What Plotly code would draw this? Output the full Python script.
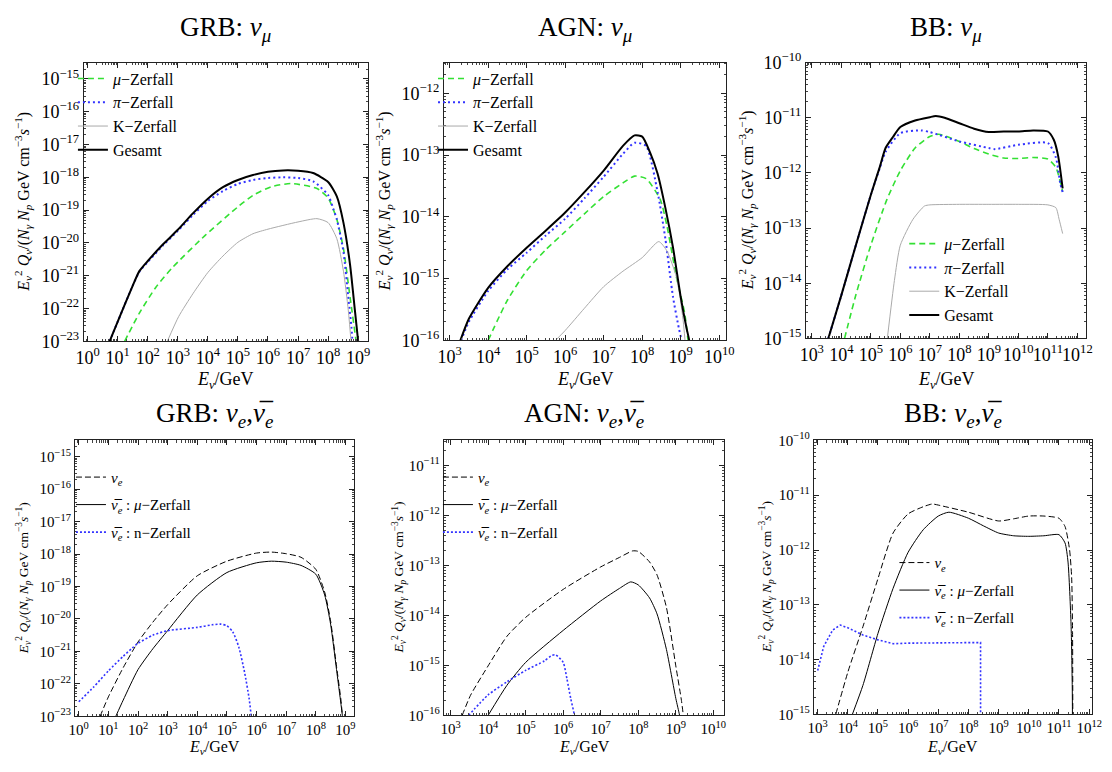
import plotly.graph_objects as go

W, H = 1112, 772
SERIF = "Liberation Serif, Times New Roman, serif"

GREEN = "#33e033"
BLUE = "#3333ff"
GRAY = "#aaaaaa"
BLACK = "#000000"

# ---------------- data: log10(E/GeV) and log10(E^2 Q) ----------------
# GRB nu_mu
grb_mu_E_mu = [1.23, 1.72, 2.27, 2.81, 3.91, 5.0, 5.5, 6.1, 6.76, 7.63, 8.0, 8.29, 8.51, 8.73, 8.93, 8.98]
grb_mu_mu = [-23, -22.14, -21.35, -20.76, -19.77, -18.9, -18.55, -18.29, -18.19, -18.34, -18.63, -19.28, -20.17, -21.65, -23, -23.5]
grb_mu_E_pi = [0.73, 1.0, 1.5, 1.72, 2.0, 2.5, 3.0, 3.5, 4.0, 4.5, 5.0, 5.5, 6.0, 6.5, 7.0, 7.5, 8.0, 8.18, 8.29, 8.51, 8.67, 8.78, 8.83]
grb_mu_pi = [-23, -22.4, -21.3, -20.88, -20.58, -20.08, -19.63, -19.15, -18.72, -18.42, -18.2, -18.08, -18.02, -18.0, -18.02, -18.12, -18.54, -18.98, -19.28, -20.26, -21.65, -22.6, -23.3]
grb_mu_E_K = [2.65, 3.03, 3.5, 4.0, 4.5, 5.0, 5.5, 6.0, 7.0, 7.63, 8.0, 8.29, 8.51, 8.67, 8.79]
grb_mu_K = [-23, -22.24, -21.55, -20.9, -20.4, -19.98, -19.72, -19.58, -19.36, -19.26, -19.38, -19.87, -20.86, -22.04, -23.3]
grb_mu_E_tot = [0.73, 1.0, 1.5, 1.72, 2.0, 2.5, 3.0, 3.5, 4.0, 4.5, 5.0, 5.5, 6.0, 6.5, 7.0, 7.5, 8.0, 8.29, 8.51, 8.73, 8.89, 9.0, 9.05]
grb_mu_tot = [-23, -22.4, -21.3, -20.86, -20.55, -20.05, -19.6, -19.1, -18.65, -18.3, -18.08, -17.93, -17.83, -17.79, -17.8, -17.87, -18.14, -18.58, -19.38, -20.66, -22.04, -23, -23.5]

# AGN nu_mu
agn_mu_E_mu = [4.0, 4.5, 5.0, 5.5, 6.0, 6.5, 7.0, 7.5, 7.8, 8.1, 8.47, 8.64, 8.89, 9.1, 9.19, 9.22]
agn_mu_mu = [-16, -15.35, -14.87, -14.53, -14.24, -13.95, -13.67, -13.45, -13.34, -13.38, -13.72, -14.14, -14.98, -15.55, -16, -16.3]
agn_mu_E_pi = [3.3, 3.5, 4.0, 4.5, 5.0, 5.5, 6.0, 6.5, 7.0, 7.5, 7.8, 8.1, 8.4, 8.6, 8.8, 8.95, 9.02, 9.05]
agn_mu_pi = [-16, -15.7, -15.2, -14.85, -14.58, -14.3, -14.03, -13.7, -13.35, -12.98, -12.8, -12.85, -13.6, -14.35, -15.3, -15.8, -16, -16.3]
agn_mu_E_K = [5.75, 6.0, 6.5, 7.0, 7.5, 8.0, 8.43, 8.64, 8.89, 9.06, 9.15]
agn_mu_K = [-16, -15.84, -15.48, -15.13, -14.88, -14.66, -14.4, -14.55, -14.98, -15.66, -16.3]
agn_mu_E_tot = [3.28, 3.5, 4.0, 4.5, 5.0, 5.5, 6.0, 6.5, 7.0, 7.5, 7.8, 8.0, 8.2, 8.4, 8.6, 8.8, 9.0, 9.15, 9.22, 9.25]
agn_mu_tot = [-16, -15.65, -15.15, -14.8, -14.5, -14.22, -13.93, -13.6, -13.25, -12.85, -12.68, -12.7, -12.95, -13.3, -13.85, -14.5, -15.3, -15.8, -16, -16.3]

# BB nu_mu
bb_mu_E_mu = [4.11, 4.5, 5.0, 5.54, 6.0, 6.5, 7.0, 7.3, 8.0, 8.5, 9.0, 9.5, 10.0, 10.5, 11.0, 11.27, 11.5]
bb_mu_mu = [-15, -14.2, -13.31, -12.49, -11.96, -11.55, -11.34, -11.3, -11.43, -11.56, -11.66, -11.73, -11.74, -11.72, -11.75, -11.9, -12.34]
bb_mu_E_pi = [3.56, 4.0, 4.5, 5.0, 5.3, 5.5, 6.0, 6.7, 7.0, 8.0, 9.0, 9.2, 10.0, 11.0, 11.27, 11.42, 11.5]
bb_mu_pi = [-15, -14.22, -13.3, -12.4, -11.92, -11.62, -11.28, -11.23, -11.26, -11.43, -11.55, -11.57, -11.49, -11.46, -11.72, -12.19, -12.35]
bb_mu_E_K = [5.56, 5.8, 6.0, 6.43, 6.82, 7.0, 8.0, 9.0, 10.0, 11.0, 11.27, 11.38, 11.5]
bb_mu_K = [-15, -13.95, -13.31, -12.84, -12.6, -12.58, -12.57, -12.57, -12.57, -12.58, -12.63, -12.84, -13.1]
bb_mu_E_tot = [3.56, 4.0, 4.5, 5.0, 5.3, 5.5, 5.75, 6.0, 6.5, 7.0, 7.2, 7.5, 8.0, 8.5, 9.0, 9.5, 10.0, 10.5, 11.0, 11.2, 11.35, 11.5]
bb_mu_tot = [-15, -14.22, -13.3, -12.4, -11.9, -11.55, -11.35, -11.17, -11.05, -10.99, -10.97, -11.0, -11.1, -11.2, -11.26, -11.25, -11.25, -11.23, -11.25, -11.4, -11.7, -12.28]

# GRB nu_e
grb_e_E_nue = [0.72, 1.0, 1.5, 2.0, 2.5, 3.0, 4.0, 5.0, 6.0, 6.5, 7.0, 7.5, 8.0, 8.3, 8.5, 8.7, 8.85, 8.9, 8.95]
grb_e_nue = [-23, -22.4, -21.5, -20.71, -20.1, -19.56, -18.67, -18.22, -17.97, -17.94, -17.99, -18.1, -18.47, -19.17, -20.06, -21.46, -22.5, -23, -23.5]
grb_e_E_mu = [1.25, 1.5, 2.0, 2.5, 3.0, 4.0, 5.0, 6.0, 6.5, 7.0, 7.5, 8.0, 8.3, 8.5, 8.7, 8.9, 8.95]
grb_e_mu = [-23, -22.5, -21.56, -20.92, -20.36, -19.26, -18.57, -18.27, -18.22, -18.25, -18.35, -18.62, -19.26, -20.16, -21.56, -23, -23.5]
grb_e_E_n = [0.0, 0.5, 1.0, 1.5, 1.8, 2.0, 2.5, 3.0, 4.0, 4.5, 4.8, 5.0, 5.2, 5.4, 5.6, 5.75, 5.82, 5.85]
grb_e_n = [-22.55, -22.1, -21.6, -21.15, -20.9, -20.75, -20.5, -20.36, -20.26, -20.18, -20.16, -20.21, -20.4, -20.86, -21.66, -22.45, -23, -23.5]

# AGN nu_e
agn_e_E_nue = [3.31, 3.53, 4.0, 4.5, 5.0, 6.0, 7.0, 7.5, 7.85, 8.0, 8.3, 8.5, 8.75, 9.0, 9.15, 9.2, 9.25]
agn_e_nue = [-16, -15.6, -15.01, -14.42, -14.04, -13.48, -13.03, -12.84, -12.71, -12.72, -12.93, -13.19, -13.84, -15.01, -15.7, -16, -16.4]
agn_e_E_mu = [4.0, 4.5, 5.0, 6.0, 7.0, 7.5, 7.8, 8.0, 8.3, 8.5, 8.75, 9.0, 9.1, 9.15]
agn_e_mu = [-16, -15.4, -14.94, -14.3, -13.71, -13.46, -13.33, -13.39, -13.65, -13.97, -14.68, -15.66, -16, -16.3]
agn_e_E_n = [3.48, 4.0, 4.5, 5.0, 5.5, 5.7, 5.8, 6.0, 6.1, 6.2, 6.3, 6.35]
agn_e_n = [-16, -15.59, -15.33, -15.1, -14.91, -14.8, -14.79, -14.94, -15.27, -15.66, -16, -16.3]

# BB nu_e
bb_e_E_nue = [3.6, 4.0, 4.5, 5.0, 5.5, 6.0, 6.5, 6.8, 7.0, 8.0, 9.0, 9.5, 10.0, 10.5, 11.0, 11.2, 11.35, 11.42, 11.45, 11.46]
bb_e_nue = [-15, -14.23, -13.4, -12.52, -11.69, -11.34, -11.21, -11.16, -11.18, -11.31, -11.47, -11.43, -11.38, -11.38, -11.42, -11.57, -11.99, -12.5, -13.5, -15.5]
bb_e_E_mu = [4.15, 4.5, 5.0, 5.5, 6.0, 6.5, 7.0, 7.35, 8.0, 8.5, 9.0, 9.5, 10.0, 10.5, 11.0, 11.2, 11.3, 11.4, 11.44, 11.45]
bb_e_mu = [-15, -14.47, -13.52, -12.7, -12.04, -11.63, -11.38, -11.31, -11.42, -11.56, -11.69, -11.74, -11.75, -11.74, -11.72, -11.87, -12.22, -13.35, -14.5, -15.5]
bb_e_E_n = [3.0, 3.2, 3.5, 3.75, 4.0, 4.5, 5.0, 5.5, 6.0, 7.0, 8.0, 8.4, 8.401]
bb_e_n = [-14.2, -13.76, -13.46, -13.37, -13.42, -13.55, -13.64, -13.71, -13.7, -13.69, -13.69, -13.69, -15.5]

# ---------------- layout helpers ----------------
frames = [
    (77, 366, 52, 339),
    (443, 730, 52, 338),
    (811, 1096, 52, 336),
    (68, 352, 441, 725),
    (443, 728, 441, 724),
    (819, 1102, 441, 723),
]
xranges = [(-0.13, 9.33), (2.85, 10.18), (2.8, 12.3), (-0.13, 9.3), (2.82, 10.29), (2.87, 12.1)]
yranges = [(-23, -14.5), (-16, -11.5), (-15, -10), (-23, -14.5), (-16, -10.5), (-15, -10)]
xtick_exps = [range(0, 10), range(3, 11), range(3, 13), range(0, 10), range(3, 11), range(3, 13)]
ytick_exps = [range(-23, -14), range(-16, -11), range(-15, -9), range(-23, -14), range(-16, -10), range(-15, -9)]
titles = [
    "GRB: <i>ν</i><sub><i>μ</i></sub>",
    "AGN: <i>ν</i><sub><i>μ</i></sub>",
    "BB: <i>ν</i><sub><i>μ</i></sub>",
    "GRB: <i>ν</i><sub><i>e</i></sub>,<i>ν̅</i><sub><i>e</i></sub>",
    "AGN: <i>ν</i><sub><i>e</i></sub>,<i>ν̅</i><sub><i>e</i></sub>",
    "BB: <i>ν</i><sub><i>e</i></sub>,<i>ν̅</i><sub><i>e</i></sub>",
]
ylabel = ("<i>E</i><sub><i>ν</i></sub><sup>2</sup> <i>Q</i><sub><i>ν</i></sub>/(<i>N</i><sub><i>γ</i></sub> "
          "<i>N</i><sub><i>p</i></sub> GeV cm<sup>−3</sup><i>s</i><sup>−1</sup>)")
xlabel = "<i>E</i><sub><i>ν</i></sub>/GeV"


def px_x(p):
    return p / W


def px_y(p):
    return 1 - p / H


def sup(k):
    s = str(k).replace("-", "−")
    return f"10<sup>{s}</sup>"


fig = go.Figure()

panels = [
    [
        (grb_mu_E_mu, grb_mu_mu, "<i>μ</i>−Zerfall", GREEN, 1.6, "6px,4px"),
        (grb_mu_E_pi, grb_mu_pi, "<i>π</i>−Zerfall", BLUE, 2.0, "2px,3px"),
        (grb_mu_E_K, grb_mu_K, "K−Zerfall", GRAY, 1.0, "solid"),
        (grb_mu_E_tot, grb_mu_tot, "Gesamt", BLACK, 2.0, "solid"),
    ],
    [
        (agn_mu_E_mu, agn_mu_mu, "<i>μ</i>−Zerfall", GREEN, 1.6, "6px,4px"),
        (agn_mu_E_pi, agn_mu_pi, "<i>π</i>−Zerfall", BLUE, 2.0, "2px,3px"),
        (agn_mu_E_K, agn_mu_K, "K−Zerfall", GRAY, 1.0, "solid"),
        (agn_mu_E_tot, agn_mu_tot, "Gesamt", BLACK, 2.0, "solid"),
    ],
    [
        (bb_mu_E_mu, bb_mu_mu, "<i>μ</i>−Zerfall", GREEN, 1.6, "6px,4px"),
        (bb_mu_E_pi, bb_mu_pi, "<i>π</i>−Zerfall", BLUE, 2.0, "2px,3px"),
        (bb_mu_E_K, bb_mu_K, "K−Zerfall", GRAY, 1.0, "solid"),
        (bb_mu_E_tot, bb_mu_tot, "Gesamt", BLACK, 2.0, "solid"),
    ],
    [
        (grb_e_E_nue, grb_e_nue, "<i>ν</i><sub><i>e</i></sub>", BLACK, 1.0, "6px,3px"),
        (grb_e_E_mu, grb_e_mu, "<i>ν̅</i><sub><i>e</i></sub> : <i>μ</i>−Zerfall", BLACK, 1.0, "solid"),
        (grb_e_E_n, grb_e_n, "<i>ν̅</i><sub><i>e</i></sub> : n−Zerfall", BLUE, 1.6, "2px,2px"),
    ],
    [
        (agn_e_E_nue, agn_e_nue, "<i>ν</i><sub><i>e</i></sub>", BLACK, 1.0, "6px,3px"),
        (agn_e_E_mu, agn_e_mu, "<i>ν̅</i><sub><i>e</i></sub> : <i>μ</i>−Zerfall", BLACK, 1.0, "solid"),
        (agn_e_E_n, agn_e_n, "<i>ν̅</i><sub><i>e</i></sub> : n−Zerfall", BLUE, 1.6, "2px,2px"),
    ],
    [
        (bb_e_E_nue, bb_e_nue, "<i>ν</i><sub><i>e</i></sub>", BLACK, 1.0, "6px,3px"),
        (bb_e_E_mu, bb_e_mu, "<i>ν̅</i><sub><i>e</i></sub> : <i>μ</i>−Zerfall", BLACK, 1.0, "solid"),
        (bb_e_E_n, bb_e_n, "<i>ν̅</i><sub><i>e</i></sub> : n−Zerfall", BLUE, 1.6, "2px,2px"),
    ],
]

# legend placement (pixels: left, top), font size, gap between items
legend_pos = [(66, 51, 16, 0), (432, 51, 16, 0), (911, 221, 16, 0),
              (64, 462, 15, 5), (437, 462, 15, 5), (901, 550, 15, 5)]

annotations = []
layout = dict(
    width=W, height=H, margin=dict(l=0, r=0, t=0, b=0),
    paper_bgcolor="white", plot_bgcolor="white",
    font=dict(family=SERIF, color="black", size=15),
    showlegend=True,
)

for i, (fr, traces) in enumerate(zip(frames, panels)):
    n = i + 1
    xa = "x" if n == 1 else f"x{n}"
    ya = "y" if n == 1 else f"y{n}"
    lg = "legend" if n == 1 else f"legend{n}"
    for j, (ex, ey, name, col, w, dash) in enumerate(traces):
        vertical_drop = (n == 6 and j == 2)
        fig.add_trace(go.Scatter(
            x=[10 ** v for v in ex], y=[10 ** v for v in ey],
            mode="lines", name=name,
            line=dict(color=col, width=w, dash=dash,
                      shape="linear" if vertical_drop else "spline",
                      smoothing=0.6),
            xaxis=xa, yaxis=ya, legend=lg, legendgroup=f"p{n}g{j}",
            hoverinfo="skip",
        ))
    l, r, t, b = fr
    top_row = i < 3
    tick_size = 18 if top_row else 15
    xmaj = list(xtick_exps[i])
    ymaj = list(ytick_exps[i])
    xminor = [m * 10 ** k for k in range(xmaj[0] - 1, xmaj[-1] + 1) for m in range(2, 10)]
    yminor = [m * 10 ** k for k in range(ymaj[0] - 1, ymaj[-1] + 1) for m in range(2, 10)]
    common = dict(type="log", showgrid=False, zeroline=False, showline=True,
                  linecolor="#222", linewidth=1, mirror="allticks",
                  ticks="inside", ticklen=5, tickwidth=0.8, tickcolor="#222",
                  tickangle=0,
                  tickfont=dict(family=SERIF, size=tick_size, color="black"))
    layout["xaxis" if n == 1 else f"xaxis{n}"] = dict(
        common, domain=[px_x(l), px_x(r)], anchor=ya, range=list(xranges[i]),
        tickvals=[10 ** k for k in xmaj], ticktext=[sup(k) for k in xmaj],
        minor=dict(ticks="inside", ticklen=2.5, tickcolor="#444", tickwidth=0.6, tickvals=xminor),
    )
    layout["yaxis" if n == 1 else f"yaxis{n}"] = dict(
        common, domain=[px_y(b), px_y(t)], anchor=xa, range=list(yranges[i]),
        tickvals=[10 ** k for k in ymaj], ticktext=[sup(k) for k in ymaj],
        minor=dict(ticks="inside", ticklen=2.5, tickcolor="#444", tickwidth=0.6, tickvals=yminor),
    )
    lx, ly, lfs, gap = legend_pos[i]
    layout[lg] = dict(x=px_x(lx), y=px_y(ly), xanchor="left", yanchor="top",
                      bgcolor="rgba(0,0,0,0)", borderwidth=0,
                      font=dict(family=SERIF, size=lfs, color="black"),
                      tracegroupgap=gap, itemwidth=30)
    cx = (l + r) / 2
    annotations.append(dict(
        text=titles[i], x=px_x(cx), y=px_y(17 if top_row else 415),
        xref="paper", yref="paper", showarrow=False, xanchor="center", yanchor="middle",
        font=dict(family=SERIF, size=27, color="black")))
    annotations.append(dict(
        text=xlabel, x=px_x(cx), y=px_y(379 if top_row else 757),
        xref="paper", yref="paper", showarrow=False, xanchor="center", yanchor="middle",
        font=dict(family=SERIF, size=18 if top_row else 16, color="black")))
    ylx = [15, 383, 752, 16, 398, 771][i]
    annotations.append(dict(
        text=ylabel, x=px_x(ylx), y=px_y((t + b) / 2), textangle=-90,
        xref="paper", yref="paper", showarrow=False, xanchor="center", yanchor="middle",
        font=dict(family=SERIF, size=16 if top_row else 13.5, color="black")))

layout["annotations"] = annotations
fig.update_layout(**layout)
fig.write_html("out.html")
